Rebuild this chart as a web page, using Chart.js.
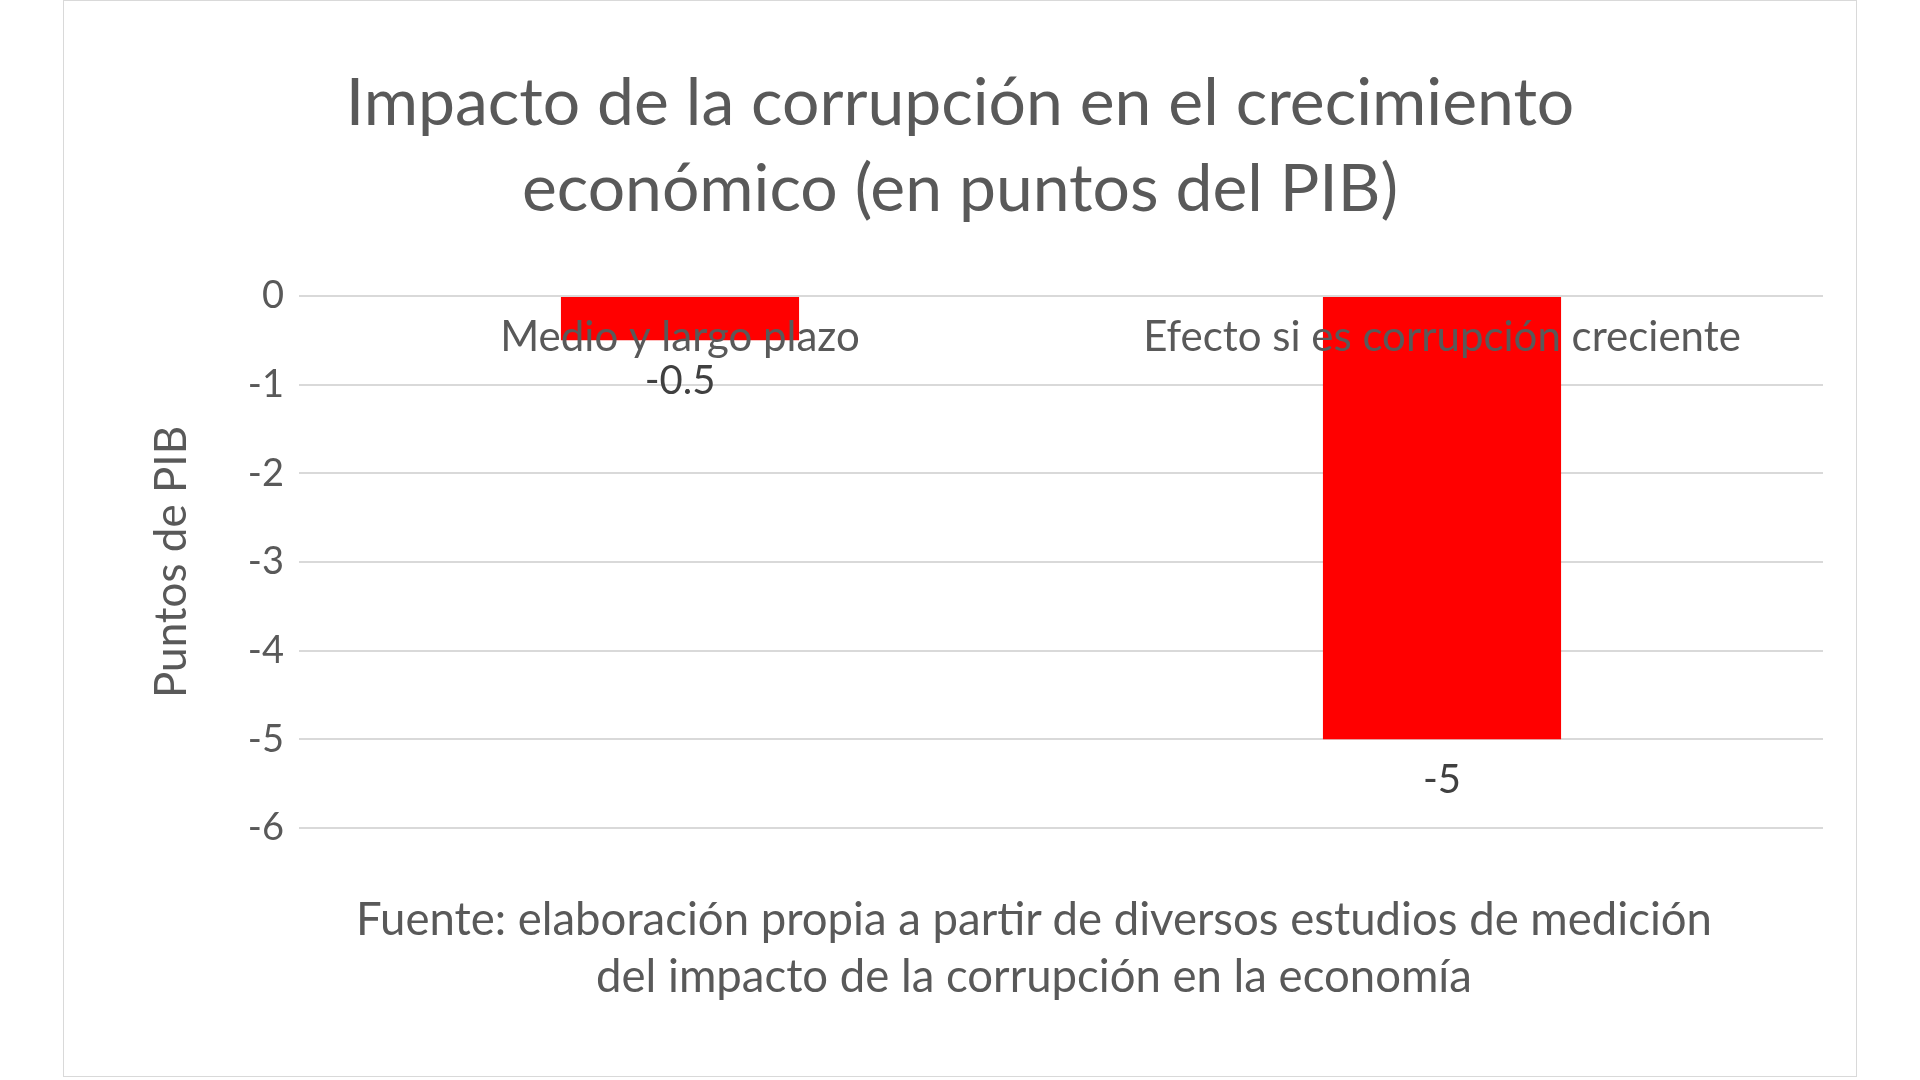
<!DOCTYPE html>
<html>
<head>
<meta charset="utf-8">
<script src="https://cdn.jsdelivr.net/npm/chart.js@4"></script>
<style>
  html, body { margin: 0; padding: 0; background: #fff; }
  #box {
    position: absolute; left: 63px; top: 0; width: 1794px; height: 1077px;
    border: 1px solid #d9d9d9; box-sizing: border-box; background: #fff;
  }
  #chart { position: absolute; left: 0; top: 0; }
  #fuente {
    position: absolute; left: 70px; top: 888px; width: 1800px;
    text-align: center; font-family: Lato, sans-serif; font-size: 45.5px;
    line-height: 57px; color: #595959;
  }
</style>
</head>
<body>
<div id="box">
  <canvas id="chart" width="1792" height="1075"></canvas>
  <div id="fuente">Fuente: elaboración propia a partir de diversos estudios de medición<br>del impacto de la corrupción en la economía</div>
</div>
<script>
const categories = ['Medio y largo plazo', 'Efecto si es corrupción creciente'];
const values = [-0.5, -5];
const titleLines = ['Impacto de la corrupción en el crecimiento', 'económico (en puntos del PIB)'];
const yTitle = 'Puntos de PIB';

// value labels under the end of each bar
const valueLabels = {
    id: 'valueLabels',
    afterDatasetsDraw(chart) {
        const ctx = chart.ctx;
        const meta = chart.getDatasetMeta(0);
        ctx.save();
        ctx.font = '40px Lato';
        ctx.fillStyle = '#404040';
        ctx.textAlign = 'center';
        ctx.textBaseline = 'middle';
        meta.data.forEach((bar, i) => {
            ctx.fillText(String(values[i]), bar.x, bar.y + 41);
        });
        ctx.restore();
    }
};

new Chart(document.getElementById('chart'), {
    type: 'bar',
    data: {
        labels: categories,
        datasets: [{
            data: values,
            backgroundColor: '#ff0000',
            borderWidth: 0,
            categoryPercentage: 1,
            barPercentage: 0.3125
        }]
    },
    plugins: [valueLabels],
    options: {
        responsive: false,
        animation: false,
        layout: { padding: { left: 33, right: 33, top: 0, bottom: 248 } },
        plugins: {
            legend: { display: false },
            tooltip: { enabled: false },
            title: {
                display: true,
                text: titleLines,
                color: '#595959',
                font: { family: 'Lato', size: 66, weight: 'normal', lineHeight: 1.303 },
                padding: { top: 60, bottom: 63 }
            }
        },
        scales: {
            x: {
                position: { y: 0 },
                grid: { display: false },
                border: { display: false },
                ticks: {
                    z: 1,
                    color: '#595959',
                    padding: 8,
                    maxRotation: 0,
                    autoSkip: false,
                    font: { family: 'Lato', size: 42 }
                }
            },
            y: {
                min: -6,
                max: 0,
                afterFit(scale) { scale.width = 202; },
                grid: { color: '#d9d9d9', lineWidth: 2, drawTicks: false },
                border: { display: false },
                ticks: {
                    stepSize: 1,
                    color: '#595959',
                    padding: 15,
                    font: { family: 'Lato', size: 38 }
                },
                title: {
                    display: true,
                    text: yTitle,
                    color: '#595959',
                    font: { family: 'Lato', size: 44 },
                    padding: { top: 48, bottom: 4 }
                }
            }
        }
    }
});
</script>
</body>
</html>
